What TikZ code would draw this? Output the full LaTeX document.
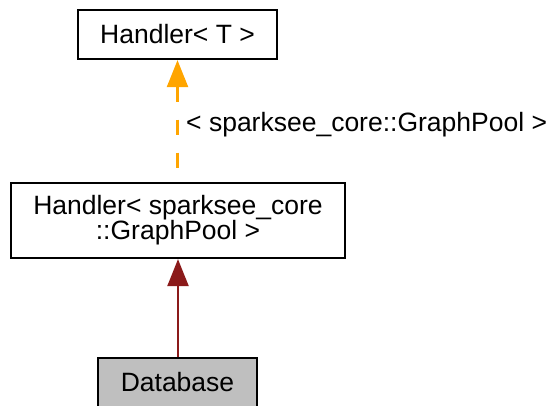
\documentclass[tikz,border=0pt]{standalone}
\usepackage{fontspec}
\setmainfont{Liberation Sans}
\usetikzlibrary{arrows.meta}
\definecolor{edgered}{HTML}{8B1A1A}
\definecolor{edgeorange}{HTML}{FFA500}
\definecolor{dbgray}{HTML}{BFBFBF}
\begin{document}
\begin{tikzpicture}[x=1pt,y=-1pt,
  classbox/.style={draw=black, line width=2.2pt, fill=white, inner sep=0pt, align=center,
    font=\fontsize{26.5}{25}\selectfont},
  inherit/.style={draw=edgered, line width=2.2pt, -{Triangle[length=27pt,width=21pt]}},
  templ/.style={draw=edgeorange, line width=2.2pt, dash pattern=on 15pt off 18pt,
    {Triangle[length=27pt,width=21pt]}-},
  lbl/.style={font=\fontsize{26.5}{25}\selectfont, inner sep=0pt}]
\useasboundingbox (0,0) rectangle (551,405);
\node[classbox, minimum width=199pt, minimum height=49pt] (top) at (177.5,34.5) {Handler< T >};
\node[classbox, minimum width=334pt, minimum height=75pt] (mid) at (178,220.5) {Handler< sparksee\_core\\::GraphPool >};
\node[classbox, fill=dbgray, minimum width=159pt, minimum height=49pt] (db) at (177.5,382.5) {Database};
\draw[templ] (top.south) -- (mid.north -| top.south);
\draw[inherit] (db.north -| mid.south) -- (mid.south);
\node[lbl, anchor=base west] (label) at (186,131) {< sparksee\_core::GraphPool >};
\end{tikzpicture}
\end{document}
